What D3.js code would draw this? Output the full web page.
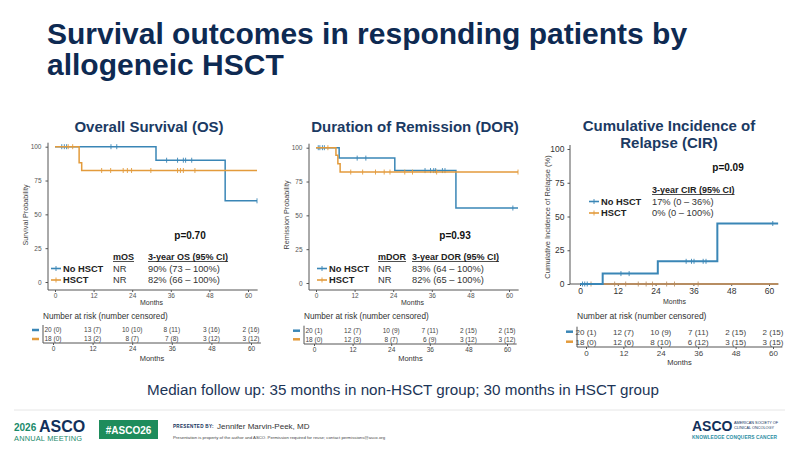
<!DOCTYPE html>
<html>
<head>
<meta charset="utf-8">
<script src="https://cdn.jsdelivr.net/npm/d3@7"></script>
<style>
  body { margin: 0; background: #fff; }
  svg { display: block; }
</style>
</head>
<body>
<svg id="chart" width="800" height="450"></svg>
<script>
// Survival outcomes by allogeneic HSCT - three panels + risk tables
const months = [0, 12, 24, 36, 48, 60];
const yTicks = [0, 25, 50, 75, 100];
const groups = ['No HSCT', 'HSCT'];

// Overall survival (step times in months, probability in %)
const osNoTimes = [0, 31.4, 52.9, 62.8];
const osNoSurv = [100, 90, 60, 60];
const osHsctTimes = [0, 7.5, 8.3, 62.8];
const osHsctSurv = [100, 88.2, 82.4, 82.4];
const osNoCens = [2.1, 2.9, 3.6, 17.4, 19.2, 34.7, 38.1, 39.9, 40.6, 42.5, 62.8];
const osHsctCens = [4.1, 5.5, 14.5, 17.3, 21.2, 22.5, 23.8, 29.8, 38.1, 39.0, 39.9, 43.5];
const osRiskNo = ['20 (0)', '13 (7)', '10 (10)', '8 (11)', '3 (16)', '2 (16)'];
const osRiskHsct = ['18 (0)', '13 (2)', '8 (7)', '7 (8)', '3 (12)', '3 (12)'];
const osStats = ['NR', 'NR'];
const osCI = ['90% (73 \u2013 100%)', '82% (66 \u2013 100%)'];

// Duration of remission
const dorNoTimes = [0, 7.2, 24.5, 43.5, 62.8];
const dorNoSurv = [100, 92.3, 83.1, 55.4, 55.4];
const dorHsctTimes = [0, 6.2, 6.8, 7.5, 62.8];
const dorHsctSurv = [100, 94.4, 88.2, 82.0, 82.0];
const dorNoCens = [0.7, 1.2, 2.0, 2.6, 12.8, 15.5, 33.9, 35.6, 36.6, 37.2, 39.3, 40.1, 61.2];
const dorHsctCens = [3.7, 10.8, 14.5, 18.5, 21.2, 23.0, 27.6, 30.0, 37.5, 62.8];
const dorRiskNo = ['20 (1)', '12 (7)', '10 (9)', '7 (11)', '2 (15)', '2 (15)'];
const dorRiskHsct = ['18 (0)', '12 (3)', '8 (7)', '6 (9)', '3 (12)', '3 (12)'];
const dorStats = ['NR', 'NR'];
const dorCI = ['83% (64 \u2013 100%)', '82% (65 \u2013 100%)'];

// Cumulative incidence of relapse
const cirNoTimes = [0, 7.2, 24.7, 43.6, 62.9];
const cirNoVal = [0, 7.7, 16.8, 44.8, 44.8];
const cirHsctTimes = [0, 62.9];
const cirHsctVal = [0, 0];
const cirNoCens = [0.8, 1.5, 2.3, 13.0, 15.6, 33.7, 35.4, 36.2, 39.1, 40.0, 61.2];
const cirHsctCens = [3.5, 11.0, 14.5, 18.5, 21.0, 23.0, 27.5, 30.0, 37.5];
const cirRiskNo = ['20 (1)', '12 (7)', '10 (9)', '7 (11)', '2 (15)', '2 (15)'];
const cirRiskHsct = ['18 (0)', '12 (6)', '8 (10)', '6 (12)', '3 (15)', '3 (15)'];
const cirCI = ['17% (0 \u2013 36%)', '0% (0 \u2013 100%)'];

const BLUE = '#3a86b6';
const ORANGE = '#e39b3c';
const NAVY = '#1b3a63';
const FONT = '"Liberation Sans", Arial, Helvetica, sans-serif';

const svg = d3.select('#chart').attr('font-family', FONT);

// Slide title
svg.append('text').attr('x', 47).attr('y', 44)
    .attr('font-size', 30).attr('font-weight', 'bold').attr('fill', '#0e2a52')
    .text('Survival outcomes in responding patients by');
svg.append('text').attr('x', 47).attr('y', 75)
    .attr('font-size', 30).attr('font-weight', 'bold').attr('fill', '#0e2a52')
    .text('allogeneic HSCT');

function valueAt(times, vals, t) {
    let v = vals[0];
    times.forEach((tt, i) => { if (tt <= t) v = vals[i]; });
    return v;
}

function drawPanel(p) {
    const g = svg.append('g');
    const x = d3.scaleLinear().domain([0, 60]).range(p.xr);
    const y = d3.scaleLinear().domain([0, 100]).range(p.yr);

    // title
    p.title.forEach((t, i) => {
        g.append('text').attr('x', p.titleX).attr('y', p.titleY + i * 17)
            .attr('text-anchor', 'middle').attr('font-size', 15)
            .attr('font-weight', 'bold').attr('fill', NAVY).text(t);
    });

    // axes
    const xa = g.append('g').attr('transform', `translate(0,${p.xAxisY})`)
        .call(d3.axisBottom(x).tickValues(months).tickSize(2).tickPadding(1.5));
    xa.select('.domain').remove();
    const ya = g.append('g').attr('transform', `translate(${p.yAxisX},0)`)
        .call(d3.axisLeft(y).tickValues(yTicks).tickSize(2.5).tickPadding(p.yPad));
    ya.select('.domain').remove();
    [xa, ya].forEach(a => {
        a.selectAll('text').attr('font-family', FONT).attr('font-size', p.tickFont).attr('fill', p.tickColor);
        a.selectAll('line').attr('stroke', '#555');
    });
    g.append('line').attr('x1', p.yAxisX).attr('x2', x(63))
        .attr('y1', p.xAxisY).attr('y2', p.xAxisY).attr('stroke', '#555').attr('stroke-width', 1);
    g.append('line').attr('x1', p.yAxisX).attr('x2', p.yAxisX)
        .attr('y1', y(100) - 4).attr('y2', p.xAxisY).attr('stroke', '#555').attr('stroke-width', 1);

    g.append('text').attr('transform', `translate(${p.yLabelX},${p.yLabelY}) rotate(-90)`)
        .attr('text-anchor', 'middle').attr('font-size', p.yLabelFont).attr('fill', '#444').text(p.yLabel);
    g.append('text').attr('x', (p.xr[0] + p.xr[1]) / 2).attr('y', p.monthsY)
        .attr('text-anchor', 'middle').attr('font-size', 7).attr('fill', '#333').text('Months');

    // curves
    const line = d3.line().x(d => x(d.t)).y(d => y(d.v)).curve(d3.curveStepAfter);
    p.series.forEach(s => {
        const pts = s.times.map((t, i) => ({ t: t, v: s.vals[i] }));
        g.append('path').datum(pts).attr('fill', 'none').attr('stroke', s.color)
            .attr('stroke-width', s.width).attr('opacity', s.opacity || 1).attr('d', line);
        g.selectAll(null).data(s.cens).enter().append('line')
            .attr('x1', d => x(d)).attr('x2', d => x(d))
            .attr('y1', d => y(valueAt(s.times, s.vals, d)) - 2.5)
            .attr('y2', d => y(valueAt(s.times, s.vals, d)) + 2.5)
            .attr('stroke', s.color).attr('stroke-width', 0.9).attr('opacity', s.opacity || 1);
    });

    // p-value + legend
    g.append('text').attr('x', p.pX).attr('y', p.pY).attr('text-anchor', 'middle')
        .attr('font-size', 10).attr('font-weight', 'bold').attr('fill', '#111').text(p.pText);
    p.headers.forEach(h => {
        const t = g.append('text').attr('x', h.x).attr('y', p.legY)
            .attr('font-size', 9).attr('font-weight', 'bold').attr('fill', '#222').text(h.text);
        const w = t.node().getComputedTextLength();
        g.append('line').attr('x1', h.x).attr('x2', h.x + w)
            .attr('y1', p.legY + 1.5).attr('y2', p.legY + 1.5).attr('stroke', '#222').attr('stroke-width', 0.8);
    });
    groups.forEach((name, i) => {
        const ry = p.legY + 11.5 * (i + 1);
        const c = i === 0 ? BLUE : ORANGE;
        g.append('line').attr('x1', p.symX).attr('x2', p.symX + 10)
            .attr('y1', ry - 3).attr('y2', ry - 3).attr('stroke', c).attr('stroke-width', 1.6);
        g.append('line').attr('x1', p.symX + 5).attr('x2', p.symX + 5)
            .attr('y1', ry - 5.5).attr('y2', ry - 0.5).attr('stroke', c).attr('stroke-width', 0.9);
        g.append('text').attr('x', p.symX + 12).attr('y', ry).attr('font-size', 9.3)
            .attr('font-weight', 'bold').attr('fill', '#222').text(name);
        p.cols.forEach(col => {
            g.append('text').attr('x', col.x).attr('y', ry).attr('font-size', 9.3)
                .attr('fill', '#333').text(col.vals[i]);
        });
    });

    // risk table
    const r = p.risk;
    const rx = d3.scaleLinear().domain([0, 60]).range(r.xr);
    g.append('text').attr('x', r.axisX).attr('y', r.titleY).attr('font-size', r.titleFont)
        .attr('fill', '#333').text('Number at risk (number censored)');
    [r.no, r.hsct].forEach((vals, i) => {
        const ry = r.rowY[i];
        g.append('line').attr('x1', r.axisX - 11).attr('x2', r.axisX - 4)
            .attr('y1', ry).attr('y2', ry).attr('stroke', i === 0 ? BLUE : ORANGE).attr('stroke-width', 2.5);
        g.selectAll(null).data(vals).enter().append('text')
            .attr('x', (d, j) => rx(months[j])).attr('y', ry).attr('dy', '0.35em')
            .attr('text-anchor', 'middle').attr('font-size', r.font).attr('fill', '#444').text(d => d);
    });
    const ra = g.append('g').attr('transform', `translate(0,${r.axisY})`)
        .call(d3.axisBottom(rx).tickValues(months).tickSize(2).tickPadding(1.5));
    ra.select('.domain').remove();
    ra.selectAll('text').attr('font-family', FONT).attr('font-size', r.font).attr('fill', '#444');
    ra.selectAll('line').attr('stroke', '#555');
    g.append('line').attr('x1', r.axisX).attr('x2', rx(63)).attr('y1', r.axisY).attr('y2', r.axisY)
        .attr('stroke', '#555');
    g.append('line').attr('x1', r.axisX).attr('x2', r.axisX).attr('y1', r.rowY[0] - 5).attr('y2', r.axisY)
        .attr('stroke', '#555');
    g.append('text').attr('x', (r.xr[0] + r.xr[1]) / 2).attr('y', r.monthsY)
        .attr('text-anchor', 'middle').attr('font-size', 7.5).attr('fill', '#333').text('Months');
}

drawPanel({
    title: ['Overall Survival (OS)'], titleX: 149, titleY: 131.5,
    xr: [55, 248], yr: [282, 146.7], xAxisY: 290, yAxisX: 48, yPad: 4,
    tickFont: 6.5, tickColor: '#555',
    yLabel: 'Survival Probability', yLabelX: 28, yLabelY: 215, yLabelFont: 7.2,
    monthsY: 305,
    series: [
        { times: osNoTimes, vals: osNoSurv, cens: osNoCens, color: BLUE, width: 1.5 },
        { times: osHsctTimes, vals: osHsctSurv, cens: osHsctCens, color: ORANGE, width: 1.5 }
    ],
    pText: 'p=0.70', pX: 190, pY: 239,
    legY: 260, symX: 51,
    headers: [{ x: 113, text: 'mOS' }, { x: 148, text: '3-year OS (95% CI)' }],
    cols: [{ x: 113, vals: osStats }, { x: 148, vals: osCI }],
    risk: { xr: [53, 251], axisX: 43, axisY: 343, rowY: [330, 339], titleY: 319, titleFont: 8.2,
            font: 6.5, monthsY: 361, no: osRiskNo, hsct: osRiskHsct }
});

drawPanel({
    title: ['Duration of Remission (DOR)'], titleX: 415, titleY: 131.5,
    xr: [316, 509], yr: [283, 147.7], xAxisY: 290, yAxisX: 309, yPad: 4,
    tickFont: 6.5, tickColor: '#555',
    yLabel: 'Remission Probability', yLabelX: 289, yLabelY: 215, yLabelFont: 7.2,
    monthsY: 305,
    series: [
        { times: dorNoTimes, vals: dorNoSurv, cens: dorNoCens, color: BLUE, width: 1.5 },
        { times: dorHsctTimes, vals: dorHsctSurv, cens: dorHsctCens, color: ORANGE, width: 1.5 }
    ],
    pText: 'p=0.93', pX: 455, pY: 239,
    legY: 260, symX: 317,
    headers: [{ x: 378, text: 'mDOR' }, { x: 412, text: '3-year DOR (95% CI)' }],
    cols: [{ x: 378, vals: dorStats }, { x: 412, vals: dorCI }],
    risk: { xr: [314, 507], axisX: 304, axisY: 344, rowY: [330.7, 339.3], titleY: 319, titleFont: 8.2,
            font: 6.5, monthsY: 361, no: dorRiskNo, hsct: dorRiskHsct }
});

drawPanel({
    title: ['Cumulative Incidence of', 'Relapse (CIR)'], titleX: 669, titleY: 131,
    xr: [580, 769], yr: [284, 149], xAxisY: 284, yAxisX: 570, yPad: 3,
    tickFont: 8.5, tickColor: '#333',
    yLabel: 'Cumulative Incidence of Relapse (%)', yLabelX: 550, yLabelY: 217, yLabelFont: 7.5,
    monthsY: 304,
    series: [
        { times: cirHsctTimes, vals: cirHsctVal, cens: cirHsctCens, color: '#b88a5a', width: 2, opacity: 0.9 },
        { times: cirNoTimes, vals: cirNoVal, cens: cirNoCens, color: BLUE, width: 2 }
    ],
    pText: 'p=0.09', pX: 728, pY: 170.5,
    legY: 193, symX: 589,
    headers: [{ x: 652, text: '3-year CIR (95% CI)' }],
    cols: [{ x: 652, vals: cirCI }],
    risk: { xr: [586, 773], axisX: 577, axisY: 347, rowY: [331.7, 341.7], titleY: 319, titleFont: 8.5,
            font: 8, monthsY: 365, no: cirRiskNo, hsct: cirRiskHsct }
});

// Median follow-up note
svg.append('text').attr('x', 403).attr('y', 395).attr('text-anchor', 'middle')
    .attr('font-size', 15.2).attr('fill', '#1c3557')
    .text('Median follow up: 35 months in non-HSCT group; 30 months in HSCT group');

// Footer
svg.append('line').attr('x1', 14).attr('x2', 785).attr('y1', 410).attr('y2', 410)
    .attr('stroke', '#e6e6e6').attr('stroke-width', 1);
svg.append('text').attr('x', 14).attr('y', 431).attr('font-size', 10).attr('font-weight', 'bold')
    .attr('fill', '#1a8a6a').text('2026');
svg.append('text').attr('x', 39).attr('y', 432).attr('font-size', 16).attr('font-weight', 'bold')
    .attr('fill', '#12305a').text('ASCO');
svg.append('text').attr('x', 14).attr('y', 440.5).attr('font-size', 7.4)
    .attr('fill', '#1a8a6a').attr('letter-spacing', 0.2).text('ANNUAL MEETING');
svg.append('rect').attr('x', 99).attr('y', 420).attr('width', 59).attr('height', 19).attr('fill', '#1e8c5c');
svg.append('text').attr('x', 128.5).attr('y', 433.5).attr('text-anchor', 'middle').attr('font-size', 10)
    .attr('font-weight', 'bold').attr('fill', '#fff').text('#ASCO26');
svg.append('text').attr('x', 173).attr('y', 427.5).attr('font-size', 4.6).attr('font-weight', 'bold')
    .attr('fill', '#12305a').attr('letter-spacing', 0.3).text('PRESENTED BY:');
svg.append('text').attr('x', 217).attr('y', 428.5).attr('font-size', 8).attr('fill', '#333')
    .text('Jennifer Marvin-Peek, MD');
svg.append('text').attr('x', 173).attr('y', 438.5).attr('font-size', 4.3).attr('fill', '#444')
    .text('Presentation is property of the author and ASCO. Permission required for reuse; contact permissions@asco.org');
svg.append('text').attr('x', 692).attr('y', 431).attr('font-size', 14).attr('font-weight', 'bold')
    .attr('fill', '#12305a').text('ASCO');
svg.append('text').attr('x', 734).attr('y', 423.5).attr('font-size', 3.8).attr('fill', '#12305a')
    .text('AMERICAN SOCIETY OF');
svg.append('text').attr('x', 734).attr('y', 428.5).attr('font-size', 3.8).attr('fill', '#12305a')
    .text('CLINICAL ONCOLOGY');
svg.append('text').attr('x', 692).attr('y', 439).attr('font-size', 4.8).attr('font-weight', 'bold')
    .attr('fill', '#2b8ea3').attr('letter-spacing', 0.1).text('KNOWLEDGE CONQUERS CANCER');
</script>
</body>
</html>
